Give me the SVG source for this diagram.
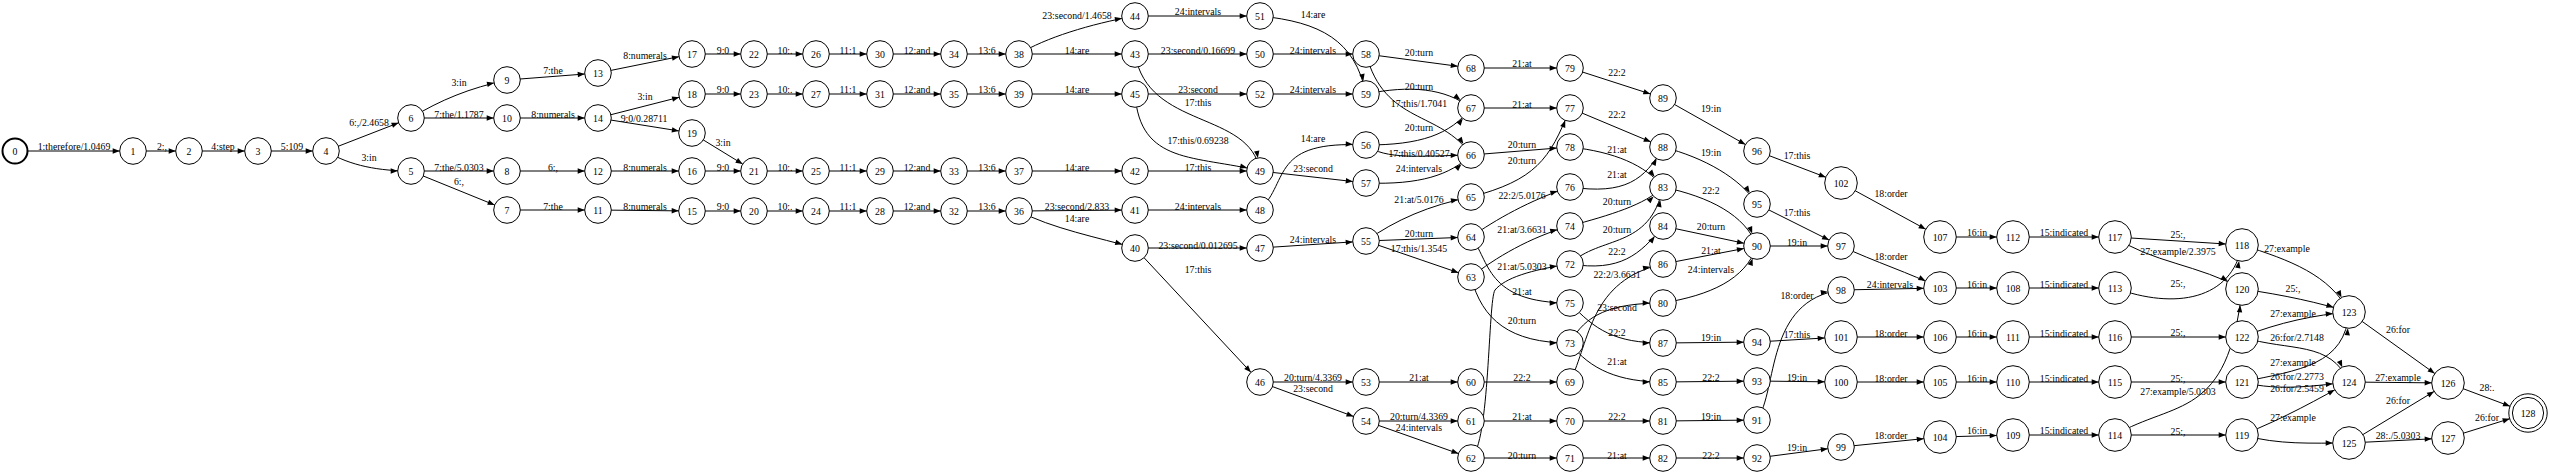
<svg xmlns="http://www.w3.org/2000/svg" width="2550" height="475" viewBox="0 0 2550 475">
<style>
.e{fill:none;stroke:#000;stroke-width:1}
.m13{marker-end:url(#a13)}
.m16{marker-end:url(#a16)}
.m19{marker-end:url(#a19)}
text{font-family:"Liberation Serif","Times New Roman",serif;font-size:9.8px;text-anchor:middle;dominant-baseline:central;fill:#000}
circle{fill:#fff;stroke:#000;stroke-width:1}
.b{stroke-width:2}
</style>
<defs>
<marker id="a13" markerUnits="userSpaceOnUse" markerWidth="8" markerHeight="6" refX="20.3" refY="2.7" orient="auto" overflow="visible"><path d="M0,0 L7,2.7 L0,5.4 z" fill="#000"/></marker>
<marker id="a16" markerUnits="userSpaceOnUse" markerWidth="8" markerHeight="6" refX="23.3" refY="2.7" orient="auto" overflow="visible"><path d="M0,0 L7,2.7 L0,5.4 z" fill="#000"/></marker>
<marker id="a19" markerUnits="userSpaceOnUse" markerWidth="8" markerHeight="6" refX="26.2" refY="2.7" orient="auto" overflow="visible"><path d="M0,0 L7,2.7 L0,5.4 z" fill="#000"/></marker>
</defs>
<rect width="2550" height="475" fill="#fff"/>
<g id="connectors">
<path class="e m13" d="M15,151 L133,151"/><text x="74" y="146">1:therefore/1.0469</text>
<path class="e m13" d="M133,151 L189,151"/><text x="162" y="146">2:,</text>
<path class="e m13" d="M189,151 L258,151"/><text x="223" y="146">4:step</text>
<path class="e m13" d="M258,151 L326,151"/><text x="292" y="146">5:109</text>
<path class="e m13" d="M326,151 L411,118"/><text x="369" y="122">6:,/2.4658</text>
<path class="e m13" d="M326,151 C350,166 380,171 411,171"/><text x="369" y="157">3:in</text>
<path class="e m13" d="M411,118 C440,100 470,88 507,80"/><text x="459" y="82">3:in</text>
<path class="e m13" d="M411,118 L507,118"/><text x="459" y="114">7:the/1.1787</text>
<path class="e m13" d="M411,171 L507,171"/><text x="459" y="167">7:the/5.0303</text>
<path class="e m13" d="M411,171 L507,210"/><text x="459" y="181">6:,</text>
<path class="e m13" d="M507,80 L598,73"/><text x="553" y="70">7:the</text>
<path class="e m13" d="M507,118 L598,118"/><text x="553" y="114">8:numerals</text>
<path class="e m13" d="M507,171 L598,171"/><text x="553" y="167">6:,</text>
<path class="e m13" d="M507,210 L598,210"/><text x="553" y="206">7:the</text>
<path class="e m13" d="M598,73 L692,54"/><text x="645" y="55">8:numerals</text>
<path class="e m13" d="M598,118 L692,94"/><text x="645" y="96">3:in</text>
<path class="e m13" d="M598,118 L692,133"/><text x="644" y="118">9:0/0.28711</text>
<path class="e m13" d="M598,171 L692,171"/><text x="645" y="167">8:numerals</text>
<path class="e m13" d="M598,210 L692,211"/><text x="645" y="206">8:numerals</text>
<path class="e m13" d="M692,54 L754,54"/><text x="723" y="50">9:0</text>
<path class="e m13" d="M692,94 L754,94"/><text x="723" y="89">9:0</text>
<path class="e m13" d="M692,133 L754,171"/><text x="723" y="142">3:in</text>
<path class="e m13" d="M692,171 L754,171"/><text x="723" y="167">9:0</text>
<path class="e m13" d="M692,211 L754,211"/><text x="723" y="206">9:0</text>
<path class="e m13" d="M754,54 L816,54"/><text x="785" y="50">10:.</text>
<path class="e m13" d="M754,94 L816,94"/><text x="785" y="89">10:.</text>
<path class="e m13" d="M754,171 L816,171"/><text x="785" y="167">10:.</text>
<path class="e m13" d="M754,211 L816,211"/><text x="785" y="206">10:.</text>
<path class="e m13" d="M816,54 L880,54"/><text x="848" y="50">11:1</text>
<path class="e m13" d="M816,94 L880,94"/><text x="848" y="89">11:1</text>
<path class="e m13" d="M816,171 L880,171"/><text x="848" y="167">11:1</text>
<path class="e m13" d="M816,211 L880,211"/><text x="848" y="206">11:1</text>
<path class="e m13" d="M880,54 L954,54"/><text x="917" y="50">12:and</text>
<path class="e m13" d="M880,94 L954,94"/><text x="917" y="89">12:and</text>
<path class="e m13" d="M880,171 L954,171"/><text x="917" y="167">12:and</text>
<path class="e m13" d="M880,211 L954,211"/><text x="917" y="206">12:and</text>
<path class="e m13" d="M954,54 L1019,54"/><text x="987" y="50">13:6</text>
<path class="e m13" d="M954,94 L1019,94"/><text x="987" y="89">13:6</text>
<path class="e m13" d="M954,171 L1019,171"/><text x="987" y="167">13:6</text>
<path class="e m13" d="M954,211 L1019,211"/><text x="987" y="206">13:6</text>
<path class="e m13" d="M1019,54 C1045,38 1090,24 1135,16"/><text x="1077" y="15">23:second/1.4658</text>
<path class="e m13" d="M1019,54 L1135,54"/><text x="1077" y="50">14:are</text>
<path class="e m13" d="M1019,94 L1135,94"/><text x="1077" y="89">14:are</text>
<path class="e m13" d="M1019,171 L1135,171"/><text x="1077" y="167">14:are</text>
<path class="e m13" d="M1019,211 L1135,210"/><text x="1077" y="206">23:second/2.833</text>
<path class="e m13" d="M1019,211 C1050,228 1100,238 1135,248"/><text x="1077" y="218">14:are</text>
<path class="e m13" d="M1135,16 L1260,16"/><text x="1198" y="11">24:intervals</text>
<path class="e m13" d="M1135,54 L1260,54"/><text x="1198" y="50">23:second/0.16699</text>
<path class="e m13" d="M1135,54 C1148,130 1250,110 1260,171"/><text x="1198" y="102">17:this</text>
<path class="e m13" d="M1135,94 L1260,94"/><text x="1198" y="89">23:second</text>
<path class="e m13" d="M1135,94 C1140,165 1195,155 1260,171"/><text x="1198" y="140">17:this/0.69238</text>
<path class="e m13" d="M1135,171 L1260,171"/><text x="1198" y="167">17:this</text>
<path class="e m13" d="M1135,210 L1260,210"/><text x="1198" y="206">24:intervals</text>
<path class="e m13" d="M1135,248 L1260,248"/><text x="1198" y="245">23:second/0.012695</text>
<path class="e m13" d="M1135,248 L1260,382"/><text x="1198" y="269">17:this</text>
<path class="e m13" d="M1260,16 C1320,22 1355,40 1366,94"/><text x="1313" y="14">14:are</text>
<path class="e m13" d="M1260,54 L1366,54"/><text x="1313" y="50">24:intervals</text>
<path class="e m13" d="M1260,94 L1366,94"/><text x="1313" y="89">24:intervals</text>
<path class="e m13" d="M1260,210 C1290,180 1270,140 1366,145"/><text x="1313" y="138">14:are</text>
<path class="e m13" d="M1260,171 L1366,183"/><text x="1313" y="168">23:second</text>
<path class="e m13" d="M1260,248 L1366,241"/><text x="1313" y="239">24:intervals</text>
<path class="e m13" d="M1260,382 L1366,382"/><text x="1313" y="377">20:turn/4.3369</text>
<path class="e m13" d="M1260,382 L1366,421"/><text x="1313" y="388">23:second</text>
<path class="e m13" d="M1366,54 L1471,68"/><text x="1419" y="52">20:turn</text>
<path class="e m13" d="M1366,54 C1385,125 1440,110 1471,155"/><text x="1419" y="103">17:this/1.7041</text>
<path class="e m13" d="M1366,94 C1410,85 1445,88 1471,108"/><text x="1419" y="86">20:turn</text>
<path class="e m13" d="M1366,145 C1420,145 1450,135 1471,108"/><text x="1419" y="127">20:turn</text>
<path class="e m13" d="M1366,145 C1385,160 1420,156 1471,155"/><text x="1419" y="153">17:this/0.40527</text>
<path class="e m13" d="M1366,183 C1420,185 1450,175 1471,155"/><text x="1419" y="168">24:intervals</text>
<path class="e m13" d="M1366,241 C1395,220 1430,205 1471,197"/><text x="1419" y="199">21:at/5.0176</text>
<path class="e m13" d="M1366,241 L1471,237"/><text x="1419" y="233">20:turn</text>
<path class="e m13" d="M1366,241 L1471,277"/><text x="1419" y="248">17:this/1.3545</text>
<path class="e m13" d="M1366,382 L1471,382"/><text x="1419" y="377">21:at</text>
<path class="e m13" d="M1366,421 L1471,421"/><text x="1419" y="416">20:turn/4.3369</text>
<path class="e m13" d="M1366,421 L1471,458"/><text x="1419" y="427">24:intervals</text>
<path class="e m13" d="M1471,68 L1570,68"/><text x="1522" y="63">21:at</text>
<path class="e m13" d="M1471,108 L1570,108"/><text x="1522" y="104">21:at</text>
<path class="e m13" d="M1471,155 L1570,147"/><text x="1522" y="144">20:turn</text>
<path class="e m13" d="M1471,197 C1535,180 1550,160 1570,108"/><text x="1522" y="160">20:turn</text>
<path class="e m13" d="M1471,237 C1495,220 1530,200 1570,187"/><text x="1522" y="195">22:2/5.0176</text>
<path class="e m13" d="M1471,277 C1495,258 1530,237 1570,226"/><text x="1522" y="229">21:at/3.6631</text>
<path class="e m13" d="M1471,458 C1490,445 1488,300 1495,290 C1505,278 1530,270 1570,264"/><text x="1522" y="266">21:at/5.0303</text>
<path class="e m13" d="M1471,237 C1490,260 1485,303 1570,303"/><text x="1522" y="291">21:at</text>
<path class="e m13" d="M1471,277 C1482,320 1510,343 1570,343"/><text x="1522" y="320">20:turn</text>
<path class="e m13" d="M1471,382 L1570,382"/><text x="1522" y="377">22:2</text>
<path class="e m13" d="M1471,421 L1570,421"/><text x="1522" y="416">21:at</text>
<path class="e m13" d="M1471,458 L1570,458"/><text x="1522" y="455">20:turn</text>
<path class="e m13" d="M1570,68 L1663,98"/><text x="1617" y="72">22:2</text>
<path class="e m13" d="M1570,108 L1663,147"/><text x="1617" y="114">22:2</text>
<path class="e m13" d="M1570,147 C1615,152 1645,165 1663,187"/><text x="1617" y="149">21:at</text>
<path class="e m13" d="M1570,187 C1625,195 1645,180 1663,147"/><text x="1617" y="174">21:at</text>
<path class="e m13" d="M1570,226 C1610,215 1645,205 1663,187"/><text x="1617" y="201">20:turn</text>
<path class="e m13" d="M1570,264 C1600,235 1650,250 1663,187"/><text x="1617" y="229">20:turn</text>
<path class="e m13" d="M1570,264 C1620,272 1640,255 1663,226"/><text x="1617" y="251">22:2</text>
<path class="e m13" d="M1570,382 C1590,340 1590,280 1663,264"/><text x="1617" y="274">22:2/3.6631</text>
<path class="e m13" d="M1570,343 C1585,315 1610,303 1663,303"/><text x="1617" y="307">23:second</text>
<path class="e m13" d="M1570,303 C1595,330 1615,343 1663,343"/><text x="1617" y="332">22:2</text>
<path class="e m13" d="M1570,343 C1590,370 1620,382 1663,382"/><text x="1617" y="361">21:at</text>
<path class="e m13" d="M1570,421 L1663,421"/><text x="1617" y="416">22:2</text>
<path class="e m13" d="M1570,458 L1663,458"/><text x="1617" y="455">21:at</text>
<path class="e m13" d="M1663,98 L1757,151"/><text x="1711" y="108">19:in</text>
<path class="e m13" d="M1663,147 C1705,158 1740,178 1757,204"/><text x="1711" y="152">19:in</text>
<path class="e m13" d="M1663,187 C1710,197 1745,215 1757,246"/><text x="1711" y="190">22:2</text>
<path class="e m13" d="M1663,226 L1757,246"/><text x="1711" y="226">20:turn</text>
<path class="e m13" d="M1663,264 L1757,246"/><text x="1711" y="250">21:at</text>
<path class="e m13" d="M1663,303 C1710,295 1745,280 1757,246"/><text x="1711" y="269">24:intervals</text>
<path class="e m13" d="M1663,343 L1757,342"/><text x="1711" y="337">19:in</text>
<path class="e m13" d="M1663,382 L1757,381"/><text x="1711" y="377">22:2</text>
<path class="e m13" d="M1663,421 L1757,420"/><text x="1711" y="416">19:in</text>
<path class="e m13" d="M1663,458 L1757,458"/><text x="1711" y="455">22:2</text>
<path class="e m16" d="M1757,151 L1841,183"/><text x="1797" y="155">17:this</text>
<path class="e m13" d="M1757,204 L1841,246"/><text x="1797" y="212">17:this</text>
<path class="e m13" d="M1757,246 L1841,246"/><text x="1797" y="242">19:in</text>
<path class="e m13" d="M1757,420 C1778,390 1765,300 1841,290"/><text x="1797" y="295">18:order</text>
<path class="e m16" d="M1757,342 L1841,337"/><text x="1797" y="334">17:this</text>
<path class="e m16" d="M1757,381 L1841,382"/><text x="1797" y="377">19:in</text>
<path class="e m13" d="M1757,458 L1841,447"/><text x="1797" y="447">19:in</text>
<path class="e m16" d="M1841,183 L1940,237"/><text x="1891" y="193">18:order</text>
<path class="e m16" d="M1841,246 C1875,262 1910,273 1940,288"/><text x="1891" y="256">18:order</text>
<path class="e m16" d="M1841,290 L1940,288"/><text x="1890" y="284">24:intervals</text>
<path class="e m16" d="M1841,337 L1940,337"/><text x="1891" y="333">18:order</text>
<path class="e m16" d="M1841,382 L1940,382"/><text x="1891" y="378">18:order</text>
<path class="e m16" d="M1841,447 L1940,437"/><text x="1891" y="435">18:order</text>
<path class="e m16" d="M1940,237 L2013,237"/><text x="1977" y="232">16:in</text>
<path class="e m16" d="M1940,288 L2013,288"/><text x="1977" y="284">16:in</text>
<path class="e m16" d="M1940,337 L2013,337"/><text x="1977" y="333">16:in</text>
<path class="e m16" d="M1940,382 L2013,382"/><text x="1977" y="378">16:in</text>
<path class="e m16" d="M1940,437 L2013,435"/><text x="1977" y="430">16:in</text>
<path class="e m16" d="M2013,237 L2115,237"/><text x="2064" y="232">15:indicated</text>
<path class="e m16" d="M2013,288 L2115,288"/><text x="2064" y="284">15:indicated</text>
<path class="e m16" d="M2013,337 L2115,337"/><text x="2064" y="333">15:indicated</text>
<path class="e m16" d="M2013,382 L2115,382"/><text x="2064" y="378">15:indicated</text>
<path class="e m16" d="M2013,435 L2115,435"/><text x="2064" y="430">15:indicated</text>
<path class="e m16" d="M2115,237 L2242,245"/><text x="2178" y="234">25:,</text>
<path class="e m16" d="M2115,237 C2150,262 2200,265 2242,289"/><text x="2178" y="251">27:example/2.3975</text>
<path class="e m16" d="M2115,288 C2175,310 2232,300 2242,245"/><text x="2178" y="283">25:,</text>
<path class="e m16" d="M2115,337 L2242,337"/><text x="2178" y="332">25:,</text>
<path class="e m16" d="M2115,382 L2242,382"/><text x="2178" y="378">25:,</text>
<path class="e m16" d="M2115,435 C2175,400 2228,420 2242,289"/><text x="2178" y="391">27:example/5.0303</text>
<path class="e m16" d="M2115,435 L2242,435"/><text x="2178" y="431">25:,</text>
<path class="e m16" d="M2242,245 C2290,260 2330,275 2349,312"/><text x="2287" y="248">27:example</text>
<path class="e m16" d="M2242,289 C2285,295 2320,303 2349,312"/><text x="2293" y="288">25:,</text>
<path class="e m16" d="M2242,337 C2280,322 2315,315 2349,312"/><text x="2293" y="313">27:example</text>
<path class="e m16" d="M2242,337 C2290,352 2330,340 2349,382"/><text x="2297" y="337">26:for/2.7148</text>
<path class="e m16" d="M2242,382 C2300,370 2345,365 2349,312"/><text x="2293" y="362">27:example</text>
<path class="e m16" d="M2242,382 C2280,392 2320,385 2349,382"/><text x="2297" y="376">26:for/2.2773</text>
<path class="e m16" d="M2242,435 C2285,418 2320,398 2349,382"/><text x="2297" y="388">26:for/2.5459</text>
<path class="e m16" d="M2242,435 C2280,445 2310,443 2349,443"/><text x="2293" y="417">27:example</text>
<path class="e m16" d="M2349,312 L2448,383"/><text x="2398" y="329">26:for</text>
<path class="e m16" d="M2349,382 L2448,383"/><text x="2398" y="377">27:example</text>
<path class="e m16" d="M2349,443 L2448,383"/><text x="2398" y="400">26:for</text>
<path class="e m16" d="M2349,443 L2448,438"/><text x="2398" y="435">28:./5.0303</text>
<path class="e m19" d="M2448,383 L2528,413"/><text x="2487" y="387">28:.</text>
<path class="e m19" d="M2448,438 L2528,413"/><text x="2487" y="417">26:for</text>
</g>
<g id="n0"><circle class="b" cx="15" cy="151" r="12.5"/><text x="15" y="151">0</text></g>
<g id="n1"><circle cx="133" cy="151" r="13.3"/><text x="133" y="151">1</text></g>
<g id="n2"><circle cx="189" cy="151" r="13.3"/><text x="189" y="151">2</text></g>
<g id="n3"><circle cx="258" cy="151" r="13.3"/><text x="258" y="151">3</text></g>
<g id="n4"><circle cx="326" cy="151" r="13.3"/><text x="326" y="151">4</text></g>
<g id="n5"><circle cx="411" cy="171" r="13.3"/><text x="411" y="171">5</text></g>
<g id="n6"><circle cx="411" cy="118" r="13.3"/><text x="411" y="118">6</text></g>
<g id="n7"><circle cx="507" cy="210" r="13.3"/><text x="507" y="210">7</text></g>
<g id="n8"><circle cx="507" cy="171" r="13.3"/><text x="507" y="171">8</text></g>
<g id="n9"><circle cx="507" cy="80" r="13.3"/><text x="507" y="80">9</text></g>
<g id="n10"><circle cx="507" cy="118" r="13.3"/><text x="507" y="118">10</text></g>
<g id="n11"><circle cx="598" cy="210" r="13.3"/><text x="598" y="210">11</text></g>
<g id="n12"><circle cx="598" cy="171" r="13.3"/><text x="598" y="171">12</text></g>
<g id="n13"><circle cx="598" cy="73" r="13.3"/><text x="598" y="73">13</text></g>
<g id="n14"><circle cx="598" cy="118" r="13.3"/><text x="598" y="118">14</text></g>
<g id="n15"><circle cx="692" cy="211" r="13.3"/><text x="692" y="211">15</text></g>
<g id="n16"><circle cx="692" cy="171" r="13.3"/><text x="692" y="171">16</text></g>
<g id="n17"><circle cx="692" cy="54" r="13.3"/><text x="692" y="54">17</text></g>
<g id="n18"><circle cx="692" cy="94" r="13.3"/><text x="692" y="94">18</text></g>
<g id="n19"><circle cx="692" cy="133" r="13.3"/><text x="692" y="133">19</text></g>
<g id="n20"><circle cx="754" cy="211" r="13.3"/><text x="754" y="211">20</text></g>
<g id="n21"><circle cx="754" cy="171" r="13.3"/><text x="754" y="171">21</text></g>
<g id="n22"><circle cx="754" cy="54" r="13.3"/><text x="754" y="54">22</text></g>
<g id="n23"><circle cx="754" cy="94" r="13.3"/><text x="754" y="94">23</text></g>
<g id="n24"><circle cx="816" cy="211" r="13.3"/><text x="816" y="211">24</text></g>
<g id="n25"><circle cx="816" cy="171" r="13.3"/><text x="816" y="171">25</text></g>
<g id="n26"><circle cx="816" cy="54" r="13.3"/><text x="816" y="54">26</text></g>
<g id="n27"><circle cx="816" cy="94" r="13.3"/><text x="816" y="94">27</text></g>
<g id="n28"><circle cx="880" cy="211" r="13.3"/><text x="880" y="211">28</text></g>
<g id="n29"><circle cx="880" cy="171" r="13.3"/><text x="880" y="171">29</text></g>
<g id="n30"><circle cx="880" cy="54" r="13.3"/><text x="880" y="54">30</text></g>
<g id="n31"><circle cx="880" cy="94" r="13.3"/><text x="880" y="94">31</text></g>
<g id="n32"><circle cx="954" cy="211" r="13.3"/><text x="954" y="211">32</text></g>
<g id="n33"><circle cx="954" cy="171" r="13.3"/><text x="954" y="171">33</text></g>
<g id="n34"><circle cx="954" cy="54" r="13.3"/><text x="954" y="54">34</text></g>
<g id="n35"><circle cx="954" cy="94" r="13.3"/><text x="954" y="94">35</text></g>
<g id="n36"><circle cx="1019" cy="211" r="13.3"/><text x="1019" y="211">36</text></g>
<g id="n37"><circle cx="1019" cy="171" r="13.3"/><text x="1019" y="171">37</text></g>
<g id="n38"><circle cx="1019" cy="54" r="13.3"/><text x="1019" y="54">38</text></g>
<g id="n39"><circle cx="1019" cy="94" r="13.3"/><text x="1019" y="94">39</text></g>
<g id="n40"><circle cx="1135" cy="248" r="13.3"/><text x="1135" y="248">40</text></g>
<g id="n41"><circle cx="1135" cy="210" r="13.3"/><text x="1135" y="210">41</text></g>
<g id="n42"><circle cx="1135" cy="171" r="13.3"/><text x="1135" y="171">42</text></g>
<g id="n43"><circle cx="1135" cy="54" r="13.3"/><text x="1135" y="54">43</text></g>
<g id="n44"><circle cx="1135" cy="16" r="13.3"/><text x="1135" y="16">44</text></g>
<g id="n45"><circle cx="1135" cy="94" r="13.3"/><text x="1135" y="94">45</text></g>
<g id="n46"><circle cx="1260" cy="382" r="13.3"/><text x="1260" y="382">46</text></g>
<g id="n47"><circle cx="1260" cy="248" r="13.3"/><text x="1260" y="248">47</text></g>
<g id="n48"><circle cx="1260" cy="210" r="13.3"/><text x="1260" y="210">48</text></g>
<g id="n49"><circle cx="1260" cy="171" r="13.3"/><text x="1260" y="171">49</text></g>
<g id="n50"><circle cx="1260" cy="54" r="13.3"/><text x="1260" y="54">50</text></g>
<g id="n51"><circle cx="1260" cy="16" r="13.3"/><text x="1260" y="16">51</text></g>
<g id="n52"><circle cx="1260" cy="94" r="13.3"/><text x="1260" y="94">52</text></g>
<g id="n53"><circle cx="1366" cy="382" r="13.3"/><text x="1366" y="382">53</text></g>
<g id="n54"><circle cx="1366" cy="421" r="13.3"/><text x="1366" y="421">54</text></g>
<g id="n55"><circle cx="1366" cy="241" r="13.3"/><text x="1366" y="241">55</text></g>
<g id="n56"><circle cx="1366" cy="145" r="13.3"/><text x="1366" y="145">56</text></g>
<g id="n57"><circle cx="1366" cy="183" r="13.3"/><text x="1366" y="183">57</text></g>
<g id="n58"><circle cx="1366" cy="54" r="13.3"/><text x="1366" y="54">58</text></g>
<g id="n59"><circle cx="1366" cy="94" r="13.3"/><text x="1366" y="94">59</text></g>
<g id="n60"><circle cx="1471" cy="382" r="13.3"/><text x="1471" y="382">60</text></g>
<g id="n61"><circle cx="1471" cy="421" r="13.3"/><text x="1471" y="421">61</text></g>
<g id="n62"><circle cx="1471" cy="458" r="13.3"/><text x="1471" y="458">62</text></g>
<g id="n63"><circle cx="1471" cy="277" r="13.3"/><text x="1471" y="277">63</text></g>
<g id="n64"><circle cx="1471" cy="237" r="13.3"/><text x="1471" y="237">64</text></g>
<g id="n65"><circle cx="1471" cy="197" r="13.3"/><text x="1471" y="197">65</text></g>
<g id="n66"><circle cx="1471" cy="155" r="13.3"/><text x="1471" y="155">66</text></g>
<g id="n67"><circle cx="1471" cy="108" r="13.3"/><text x="1471" y="108">67</text></g>
<g id="n68"><circle cx="1471" cy="68" r="13.3"/><text x="1471" y="68">68</text></g>
<g id="n69"><circle cx="1570" cy="382" r="13.3"/><text x="1570" y="382">69</text></g>
<g id="n70"><circle cx="1570" cy="421" r="13.3"/><text x="1570" y="421">70</text></g>
<g id="n71"><circle cx="1570" cy="458" r="13.3"/><text x="1570" y="458">71</text></g>
<g id="n72"><circle cx="1570" cy="264" r="13.3"/><text x="1570" y="264">72</text></g>
<g id="n73"><circle cx="1570" cy="343" r="13.3"/><text x="1570" y="343">73</text></g>
<g id="n74"><circle cx="1570" cy="226" r="13.3"/><text x="1570" y="226">74</text></g>
<g id="n75"><circle cx="1570" cy="303" r="13.3"/><text x="1570" y="303">75</text></g>
<g id="n76"><circle cx="1570" cy="187" r="13.3"/><text x="1570" y="187">76</text></g>
<g id="n77"><circle cx="1570" cy="108" r="13.3"/><text x="1570" y="108">77</text></g>
<g id="n78"><circle cx="1570" cy="147" r="13.3"/><text x="1570" y="147">78</text></g>
<g id="n79"><circle cx="1570" cy="68" r="13.3"/><text x="1570" y="68">79</text></g>
<g id="n80"><circle cx="1663" cy="303" r="13.3"/><text x="1663" y="303">80</text></g>
<g id="n81"><circle cx="1663" cy="421" r="13.3"/><text x="1663" y="421">81</text></g>
<g id="n82"><circle cx="1663" cy="458" r="13.3"/><text x="1663" y="458">82</text></g>
<g id="n83"><circle cx="1663" cy="187" r="13.3"/><text x="1663" y="187">83</text></g>
<g id="n84"><circle cx="1663" cy="226" r="13.3"/><text x="1663" y="226">84</text></g>
<g id="n85"><circle cx="1663" cy="382" r="13.3"/><text x="1663" y="382">85</text></g>
<g id="n86"><circle cx="1663" cy="264" r="13.3"/><text x="1663" y="264">86</text></g>
<g id="n87"><circle cx="1663" cy="343" r="13.3"/><text x="1663" y="343">87</text></g>
<g id="n88"><circle cx="1663" cy="147" r="13.3"/><text x="1663" y="147">88</text></g>
<g id="n89"><circle cx="1663" cy="98" r="13.3"/><text x="1663" y="98">89</text></g>
<g id="n90"><circle cx="1757" cy="246" r="13.3"/><text x="1757" y="246">90</text></g>
<g id="n91"><circle cx="1757" cy="420" r="13.3"/><text x="1757" y="420">91</text></g>
<g id="n92"><circle cx="1757" cy="458" r="13.3"/><text x="1757" y="458">92</text></g>
<g id="n93"><circle cx="1757" cy="381" r="13.3"/><text x="1757" y="381">93</text></g>
<g id="n94"><circle cx="1757" cy="342" r="13.3"/><text x="1757" y="342">94</text></g>
<g id="n95"><circle cx="1757" cy="204" r="13.3"/><text x="1757" y="204">95</text></g>
<g id="n96"><circle cx="1757" cy="151" r="13.3"/><text x="1757" y="151">96</text></g>
<g id="n97"><circle cx="1841" cy="246" r="13.3"/><text x="1841" y="246">97</text></g>
<g id="n98"><circle cx="1841" cy="290" r="13.3"/><text x="1841" y="290">98</text></g>
<g id="n99"><circle cx="1841" cy="447" r="13.3"/><text x="1841" y="447">99</text></g>
<g id="n100"><circle cx="1841" cy="382" r="16.3"/><text x="1841" y="382">100</text></g>
<g id="n101"><circle cx="1841" cy="337" r="16.3"/><text x="1841" y="337">101</text></g>
<g id="n102"><circle cx="1841" cy="183" r="16.3"/><text x="1841" y="183">102</text></g>
<g id="n103"><circle cx="1940" cy="288" r="16.3"/><text x="1940" y="288">103</text></g>
<g id="n104"><circle cx="1940" cy="437" r="16.3"/><text x="1940" y="437">104</text></g>
<g id="n105"><circle cx="1940" cy="382" r="16.3"/><text x="1940" y="382">105</text></g>
<g id="n106"><circle cx="1940" cy="337" r="16.3"/><text x="1940" y="337">106</text></g>
<g id="n107"><circle cx="1940" cy="237" r="16.3"/><text x="1940" y="237">107</text></g>
<g id="n108"><circle cx="2013" cy="288" r="16.3"/><text x="2013" y="288">108</text></g>
<g id="n109"><circle cx="2013" cy="435" r="16.3"/><text x="2013" y="435">109</text></g>
<g id="n110"><circle cx="2013" cy="382" r="16.3"/><text x="2013" y="382">110</text></g>
<g id="n111"><circle cx="2013" cy="337" r="16.3"/><text x="2013" y="337">111</text></g>
<g id="n112"><circle cx="2013" cy="237" r="16.3"/><text x="2013" y="237">112</text></g>
<g id="n113"><circle cx="2115" cy="288" r="16.3"/><text x="2115" y="288">113</text></g>
<g id="n114"><circle cx="2115" cy="435" r="16.3"/><text x="2115" y="435">114</text></g>
<g id="n115"><circle cx="2115" cy="382" r="16.3"/><text x="2115" y="382">115</text></g>
<g id="n116"><circle cx="2115" cy="337" r="16.3"/><text x="2115" y="337">116</text></g>
<g id="n117"><circle cx="2115" cy="237" r="16.3"/><text x="2115" y="237">117</text></g>
<g id="n118"><circle cx="2242" cy="245" r="16.3"/><text x="2242" y="245">118</text></g>
<g id="n119"><circle cx="2242" cy="435" r="16.3"/><text x="2242" y="435">119</text></g>
<g id="n120"><circle cx="2242" cy="289" r="16.3"/><text x="2242" y="289">120</text></g>
<g id="n121"><circle cx="2242" cy="382" r="16.3"/><text x="2242" y="382">121</text></g>
<g id="n122"><circle cx="2242" cy="337" r="16.3"/><text x="2242" y="337">122</text></g>
<g id="n123"><circle cx="2349" cy="312" r="16.3"/><text x="2349" y="312">123</text></g>
<g id="n124"><circle cx="2349" cy="382" r="16.3"/><text x="2349" y="382">124</text></g>
<g id="n125"><circle cx="2349" cy="443" r="16.3"/><text x="2349" y="443">125</text></g>
<g id="n126"><circle cx="2448" cy="383" r="16.3"/><text x="2448" y="383">126</text></g>
<g id="n127"><circle cx="2448" cy="438" r="16.3"/><text x="2448" y="438">127</text></g>
<g id="n128"><circle cx="2528" cy="413" r="19.2"/><circle cx="2528" cy="413" r="15.6"/><text x="2528" y="413">128</text></g>
</svg>
